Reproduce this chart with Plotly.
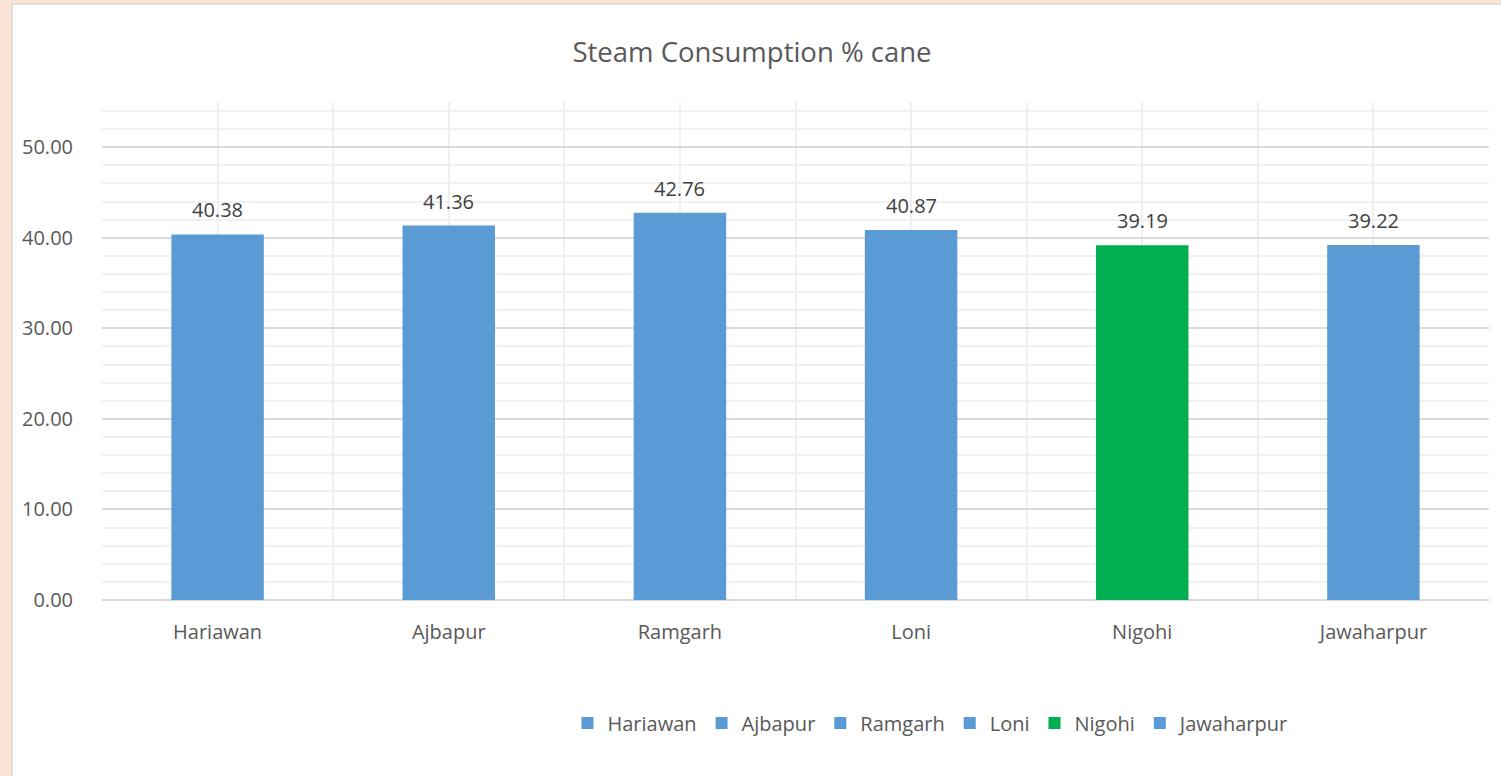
import plotly.graph_objects as go

categories = ["Hariawan", "Ajbapur", "Ramgarh", "Loni", "Nigohi", "Jawaharpur"]
values = [40.38, 41.36, 42.76, 40.87, 39.19, 39.22]
colors = ["#5B9BD5", "#5B9BD5", "#5B9BD5", "#5B9BD5", "#00B050", "#5B9BD5"]
y_ticks = [0, 10, 20, 30, 40, 50]

W, H = 1501, 776
L, R, T, B = 102, 12, 102, 176
pw, ph = W - L - R, H - T - B

FONT = "Open Sans"
TXT = "#595959"

fig = go.Figure()
positions = list(range(len(categories)))
for i, (c, v, col) in enumerate(zip(categories, values, colors)):
    fig.add_trace(go.Bar(
        x=[positions[i]], y=[v], name=c, width=0.4,
        marker=dict(color=col, line=dict(width=0)),
        hoverinfo="x+y",
    ))
    fig.add_annotation(x=positions[i], y=v, text=f"{v:.2f}", showarrow=False,
                       yanchor="bottom", yshift=9,
                       font=dict(family=FONT, size=20, color="#404040"))

# white chart area over the peach page
fig.add_shape(type="rect", xref="paper", yref="paper",
              x0=(12 - L) / pw, x1=(W + 5 - L) / pw,
              y0=(T + ph - (H + 5)) / ph, y1=(T + ph - 4) / ph,
              fillcolor="white", line=dict(color="#D9D9D9", width=1.5), layer="below")

fig.update_layout(
    width=W, height=H,
    margin=dict(l=L, r=R, t=T, b=B),
    paper_bgcolor="#FBE5D6",
    plot_bgcolor="rgba(0,0,0,0)",
    barmode="overlay",
    title=dict(text="Steam Consumption % cane", x=0.501, xanchor="center",
               y=1 - 52 / H, yanchor="middle",
               font=dict(family=FONT, size=27.5, color=TXT)),
    font=dict(family=FONT, size=20, color=TXT),
    showlegend=True,
    legend=dict(orientation="h", x=(931 - L) / pw, xanchor="center",
                y=(T + ph - 723) / ph, yanchor="middle",
                font=dict(family=FONT, size=20, color=TXT),
                itemwidth=30, bgcolor="rgba(0,0,0,0)", traceorder="normal"),
    xaxis=dict(
        range=[-0.5, len(categories) - 0.5],
        tickmode="array", tickvals=positions, ticktext=categories,
        showgrid=True, gridcolor="#EFEFEF", gridwidth=1.5,
        minor=dict(tickmode="array",
                   tickvals=[p - 0.5 for p in positions] + [positions[-1] + 0.5],
                   showgrid=True, gridcolor="#EFEFEF", gridwidth=1.5),
        zeroline=False, showline=False, ticks="",
        ticklabelstandoff=18,
        tickfont=dict(family=FONT, size=20, color=TXT),
    ),
    yaxis=dict(
        range=[0, 55], tickmode="array", tickvals=y_ticks,
        tickformat=".2f",
        showgrid=True, gridcolor="#D9D9D9", gridwidth=1.5,
        minor=dict(dtick=2, tick0=0, showgrid=True, gridcolor="#F0F0F0", gridwidth=1.5),
        zeroline=True, zerolinecolor="#D9D9D9", zerolinewidth=1.5,
        showline=False, ticks="",
        ticklabelstandoff=28,
        tickfont=dict(family=FONT, size=20, color=TXT),
    ),
)

fig.write_html(
    "out.html",
    config={"displayModeBar": False},
    post_script="document.body.style.margin='0';document.body.style.padding='0';"
                "document.body.style.overflow='hidden';"
                "document.body.style.background='#FBE5D6';",
)
